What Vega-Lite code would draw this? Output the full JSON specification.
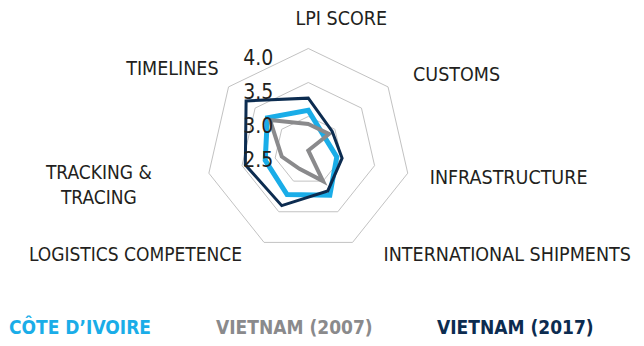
{
  "$schema": "https://vega.github.io/schema/vega-lite/v6.json",
  "width": 644,
  "height": 346,
  "autosize": {"type": "none"},
  "padding": 0,
  "background": "white",
  "config": {"view": {"stroke": null}, "font": "DejaVu Sans Condensed, Liberation Sans, sans-serif"},
  "datasets": {
    "lpi": [
      {"series": "CÔTE D’IVOIRE", "axis": "LPI SCORE", "value": 3.09},
      {"series": "CÔTE D’IVOIRE", "axis": "CUSTOMS", "value": 2.81},
      {"series": "CÔTE D’IVOIRE", "axis": "INFRASTRUCTURE", "value": 2.93},
      {"series": "CÔTE D’IVOIRE", "axis": "INTERNATIONAL SHIPMENTS", "value": 3.23},
      {"series": "CÔTE D’IVOIRE", "axis": "LOGISTICS COMPETENCE", "value": 3.22},
      {"series": "CÔTE D’IVOIRE", "axis": "TRACKING & TRACING", "value": 3.15},
      {"series": "CÔTE D’IVOIRE", "axis": "TIMELINES", "value": 3.27},
      {"series": "VIETNAM (2007)", "axis": "LPI SCORE", "value": 2.89},
      {"series": "VIETNAM (2007)", "axis": "CUSTOMS", "value": 2.89},
      {"series": "VIETNAM (2007)", "axis": "INFRASTRUCTURE", "value": 2.5},
      {"series": "VIETNAM (2007)", "axis": "INTERNATIONAL SHIPMENTS", "value": 3.0},
      {"series": "VIETNAM (2007)", "axis": "LOGISTICS COMPETENCE", "value": 2.8},
      {"series": "VIETNAM (2007)", "axis": "TRACKING & TRACING", "value": 2.9},
      {"series": "VIETNAM (2007)", "axis": "TIMELINES", "value": 3.22},
      {"series": "VIETNAM (2017)", "axis": "LPI SCORE", "value": 3.27},
      {"series": "VIETNAM (2017)", "axis": "CUSTOMS", "value": 2.95},
      {"series": "VIETNAM (2017)", "axis": "INFRASTRUCTURE", "value": 3.01},
      {"series": "VIETNAM (2017)", "axis": "INTERNATIONAL SHIPMENTS", "value": 3.16},
      {"series": "VIETNAM (2017)", "axis": "LOGISTICS COMPETENCE", "value": 3.4},
      {"series": "VIETNAM (2017)", "axis": "TRACKING & TRACING", "value": 3.45},
      {"series": "VIETNAM (2017)", "axis": "TIMELINES", "value": 3.67}
    ],
    "grid": [
      {"level": 3.0, "axis": ["LPI SCORE", "CUSTOMS", "INFRASTRUCTURE", "INTERNATIONAL SHIPMENTS", "LOGISTICS COMPETENCE", "TRACKING & TRACING", "TIMELINES"]},
      {"level": 3.5, "axis": ["LPI SCORE", "CUSTOMS", "INFRASTRUCTURE", "INTERNATIONAL SHIPMENTS", "LOGISTICS COMPETENCE", "TRACKING & TRACING", "TIMELINES"]},
      {"level": 4.0, "axis": ["LPI SCORE", "CUSTOMS", "INFRASTRUCTURE", "INTERNATIONAL SHIPMENTS", "LOGISTICS COMPETENCE", "TRACKING & TRACING", "TIMELINES"]}
    ],
    "axes": [
      {"axis": "LPI SCORE", "label": "LPI SCORE"},
      {"axis": "CUSTOMS", "label": "CUSTOMS"},
      {"axis": "INFRASTRUCTURE", "label": "INFRASTRUCTURE"},
      {"axis": "INTERNATIONAL SHIPMENTS", "label": "INTERNATIONAL SHIPMENTS"},
      {"axis": "LOGISTICS COMPETENCE", "label": "LOGISTICS COMPETENCE"},
      {"axis": "TRACKING & TRACING", "label": ["TRACKING &", "TRACING"]},
      {"axis": "TIMELINES", "label": "TIMELINES"}
    ],
    "ticks": [{"v": 2.5}, {"v": 3.0}, {"v": 3.5}, {"v": 4.0}]
  },
  "encoding": {
    "x": {"field": "px", "type": "quantitative", "scale": {"domain": [-4.534, 4.937], "nice": false, "zero": false}, "axis": null},
    "y": {"field": "py", "type": "quantitative", "scale": {"domain": [-2.875, 2.213], "nice": false, "zero": false}, "axis": null}
  },
  "layer": [
    {
      "data": {"name": "grid"},
      "transform": [
        {"flatten": ["axis"]},
        {"calculate": "indexof(['LPI SCORE','CUSTOMS','INFRASTRUCTURE','INTERNATIONAL SHIPMENTS','LOGISTICS COMPETENCE','TRACKING & TRACING','TIMELINES'], datum.axis) * 2 * PI / 7", "as": "ang"},
        {"calculate": "(datum.level - 2.5) * sin(datum.ang)", "as": "px"},
        {"calculate": "(datum.level - 2.5) * cos(datum.ang)", "as": "py"}
      ],
      "mark": {"type": "line", "interpolate": "linear-closed", "color": "#C2C2C2", "strokeWidth": 1},
      "encoding": {
        "detail": {"field": "level", "type": "nominal"},
        "order": {"field": "ang", "type": "quantitative"}
      }
    },
    {
      "data": {"name": "lpi"},
      "transform": [
        {"calculate": "indexof(['LPI SCORE','CUSTOMS','INFRASTRUCTURE','INTERNATIONAL SHIPMENTS','LOGISTICS COMPETENCE','TRACKING & TRACING','TIMELINES'], datum.axis) * 2 * PI / 7", "as": "ang"},
        {"calculate": "(datum.value - 2.5) * sin(datum.ang)", "as": "px"},
        {"calculate": "(datum.value - 2.5) * cos(datum.ang)", "as": "py"}
      ],
      "mark": {"type": "line", "interpolate": "linear-closed", "strokeJoin": "miter"},
      "encoding": {
        "color": {
          "field": "series", "type": "nominal",
          "scale": {"domain": ["CÔTE D’IVOIRE", "VIETNAM (2007)", "VIETNAM (2017)"], "range": ["#1AADE8", "#8A8A8C", "#0C2C50"]},
          "legend": {
            "orient": "none", "legendX": -10, "legendY": 318, "direction": "horizontal", "title": null,
            "symbolOpacity": 0, "symbolSize": 0, "symbolStrokeWidth": 0, "labelOffset": 0,
            "labelFontSize": 19, "labelFontWeight": "bold", "labelLimit": 400, "columnPadding": 45, "padding": 0,
            "encode": {"labels": {"update": {"fill": {"scale": "color", "field": "value"}}}}
          }
        },
        "strokeWidth": {
          "field": "series", "type": "nominal",
          "scale": {"domain": ["CÔTE D’IVOIRE", "VIETNAM (2007)", "VIETNAM (2017)"], "range": [5, 3, 3]},
          "legend": null
        },
        "order": {"field": "ang", "type": "quantitative"}
      }
    },
    {
      "data": {"name": "ticks"},
      "transform": [
        {"calculate": "0", "as": "px"},
        {"calculate": "datum.v - 2.5", "as": "py"}
      ],
      "mark": {"type": "text", "align": "right", "baseline": "middle", "dx": -35, "dy": 11, "fontSize": 21, "color": "#231F20"},
      "encoding": {"text": {"field": "v", "type": "quantitative", "format": ".1f"}}
    },
    {
      "data": {"name": "axes"},
      "transform": [
        {"filter": "datum.axis == 'LPI SCORE'"},
        {"calculate": "indexof(['LPI SCORE','CUSTOMS','INFRASTRUCTURE','INTERNATIONAL SHIPMENTS','LOGISTICS COMPETENCE','TRACKING & TRACING','TIMELINES'], datum.axis) * 2 * PI / 7", "as": "ang"},
        {"calculate": "1.5 * sin(datum.ang)", "as": "px"},
        {"calculate": "1.5 * cos(datum.ang)", "as": "py"}
      ],
      "mark": {"type": "text", "align": "center", "baseline": "middle", "dx": 33, "dy": -29.5, "fontSize": 19.5, "color": "#231F20"},
      "encoding": {"text": {"field": "label"}}
    },
    {
      "data": {"name": "axes"},
      "transform": [
        {"filter": "datum.axis == 'CUSTOMS'"},
        {"calculate": "indexof(['LPI SCORE','CUSTOMS','INFRASTRUCTURE','INTERNATIONAL SHIPMENTS','LOGISTICS COMPETENCE','TRACKING & TRACING','TIMELINES'], datum.axis) * 2 * PI / 7", "as": "ang"},
        {"calculate": "1.5 * sin(datum.ang)", "as": "px"},
        {"calculate": "1.5 * cos(datum.ang)", "as": "py"}
      ],
      "mark": {"type": "text", "align": "left", "baseline": "middle", "dx": 25, "dy": -12, "fontSize": 19.5, "color": "#231F20"},
      "encoding": {"text": {"field": "label"}}
    },
    {
      "data": {"name": "axes"},
      "transform": [
        {"filter": "datum.axis == 'INFRASTRUCTURE'"},
        {"calculate": "indexof(['LPI SCORE','CUSTOMS','INFRASTRUCTURE','INTERNATIONAL SHIPMENTS','LOGISTICS COMPETENCE','TRACKING & TRACING','TIMELINES'], datum.axis) * 2 * PI / 7", "as": "ang"},
        {"calculate": "1.5 * sin(datum.ang)", "as": "px"},
        {"calculate": "1.5 * cos(datum.ang)", "as": "py"}
      ],
      "mark": {"type": "text", "align": "left", "baseline": "middle", "dx": 22, "dy": 5, "fontSize": 19.5, "color": "#231F20"},
      "encoding": {"text": {"field": "label"}}
    },
    {
      "data": {"name": "axes"},
      "transform": [
        {"filter": "datum.axis == 'INTERNATIONAL SHIPMENTS'"},
        {"calculate": "indexof(['LPI SCORE','CUSTOMS','INFRASTRUCTURE','INTERNATIONAL SHIPMENTS','LOGISTICS COMPETENCE','TRACKING & TRACING','TIMELINES'], datum.axis) * 2 * PI / 7", "as": "ang"},
        {"calculate": "1.5 * sin(datum.ang)", "as": "px"},
        {"calculate": "1.5 * cos(datum.ang)", "as": "py"}
      ],
      "mark": {"type": "text", "align": "left", "baseline": "middle", "dx": 31, "dy": 12.5, "fontSize": 19.5, "color": "#231F20"},
      "encoding": {"text": {"field": "label"}}
    },
    {
      "data": {"name": "axes"},
      "transform": [
        {"filter": "datum.axis == 'LOGISTICS COMPETENCE'"},
        {"calculate": "indexof(['LPI SCORE','CUSTOMS','INFRASTRUCTURE','INTERNATIONAL SHIPMENTS','LOGISTICS COMPETENCE','TRACKING & TRACING','TIMELINES'], datum.axis) * 2 * PI / 7", "as": "ang"},
        {"calculate": "1.5 * sin(datum.ang)", "as": "px"},
        {"calculate": "1.5 * cos(datum.ang)", "as": "py"}
      ],
      "mark": {"type": "text", "align": "right", "baseline": "middle", "dx": -22, "dy": 13, "fontSize": 19, "color": "#231F20"},
      "encoding": {"text": {"field": "label"}}
    },
    {
      "data": {"name": "axes"},
      "transform": [
        {"filter": "datum.axis == 'TRACKING & TRACING'"},
        {"calculate": "indexof(['LPI SCORE','CUSTOMS','INFRASTRUCTURE','INTERNATIONAL SHIPMENTS','LOGISTICS COMPETENCE','TRACKING & TRACING','TIMELINES'], datum.axis) * 2 * PI / 7", "as": "ang"},
        {"calculate": "1.5 * sin(datum.ang)", "as": "px"},
        {"calculate": "1.5 * cos(datum.ang)", "as": "py"}
      ],
      "mark": {"type": "text", "align": "center", "baseline": "middle", "dx": -110, "dy": 0, "lineHeight": 25, "fontSize": 19, "color": "#231F20"},
      "encoding": {"text": {"field": "label"}}
    },
    {
      "data": {"name": "axes"},
      "transform": [
        {"filter": "datum.axis == 'TIMELINES'"},
        {"calculate": "indexof(['LPI SCORE','CUSTOMS','INFRASTRUCTURE','INTERNATIONAL SHIPMENTS','LOGISTICS COMPETENCE','TRACKING & TRACING','TIMELINES'], datum.axis) * 2 * PI / 7", "as": "ang"},
        {"calculate": "1.5 * sin(datum.ang)", "as": "px"},
        {"calculate": "1.5 * cos(datum.ang)", "as": "py"}
      ],
      "mark": {"type": "text", "align": "right", "baseline": "middle", "dx": -10, "dy": -18, "fontSize": 19.5, "color": "#231F20"},
      "encoding": {"text": {"field": "label"}}
    }
  ]
}
